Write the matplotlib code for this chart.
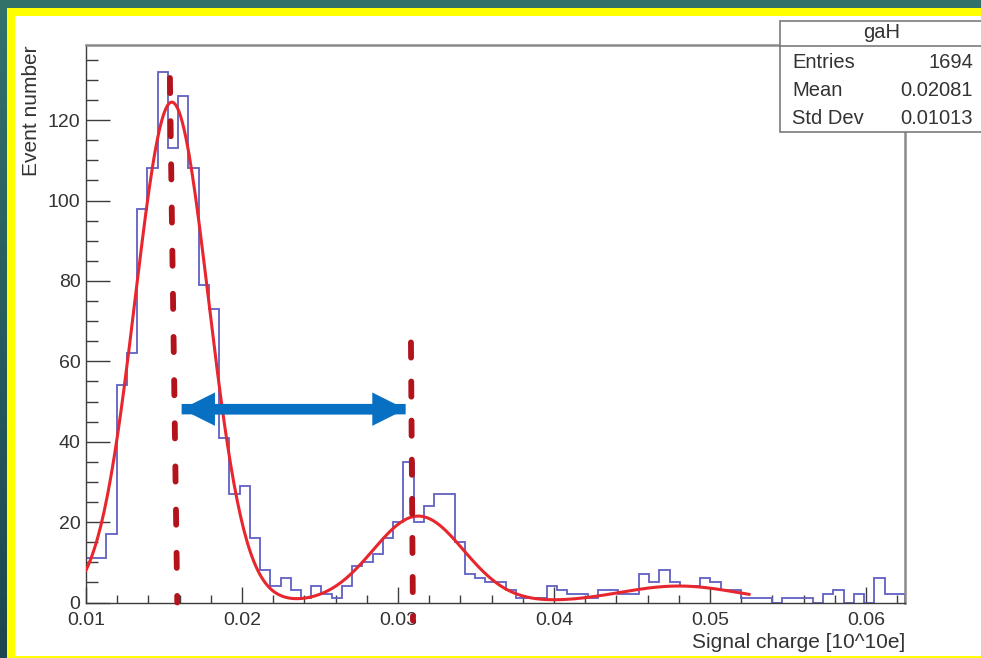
import numpy as np
import matplotlib
matplotlib.use('Agg')
import matplotlib.pyplot as plt
from matplotlib.patches import Rectangle
from matplotlib.colors import LinearSegmentedColormap

plt.rcParams['font.family'] = ['Liberation Sans', 'DejaVu Sans']

# ── Data ─────────────────────────────────────────────────────────────────────
x_lo, x_hi = 0.01, 0.0625
counts = [11, 11, 17, 54, 62, 98, 108, 132, 113, 126,
          108, 79, 73, 41, 27, 29, 16, 8, 4, 6,
          3, 1, 4, 2, 1, 4, 9, 10, 12, 16,
          20, 35, 20, 24, 27, 27, 15, 7, 6, 5,
          5, 3, 1, 1, 1, 4, 3, 2, 2, 1,
          3, 3, 2, 2, 7, 5, 8, 5, 4, 4,
          6, 5, 3, 3, 1, 1, 1, 0, 1, 1,
          1, 0, 2, 3, 0, 2, 0, 6, 2, 2]

# three-gaussian fit drawn in red
fit_amp = [124.5, 21.5, 4.1]
fit_mean = [0.0155, 0.0313, 0.048]
fit_sigma = [0.00235, 0.0029, 0.0038]
fit_range = (0.01, 0.0525)

# hand-drawn annotations (peak markers + distance arrow)
peak1_line = ([0.01538, 0.01585], [130.5, 0.0])
peak2_line = ([0.03083, 0.03096], [64.7, -4.5])
arrow_x = [0.01613, 0.03049]
arrow_y = 48.1

stats_name = 'gaH'
stats_labels = ['Entries', 'Mean', 'Std Dev']
stats_values = ['1694', '0.02081', '0.01013']

x_ticks = [0.01, 0.02, 0.03, 0.04, 0.05, 0.06]
x_ticklabels = ['0.01', '0.02', '0.03', '0.04', '0.05', '0.06']
y_ticks = [0, 20, 40, 60, 80, 100, 120]

# ── Colors ───────────────────────────────────────────────────────────────────
COL_TEXT = '#333333'
COL_AXIS = '#3c3c3c'
COL_FRAME = '#8a8a8a'
COL_HIST = '#6060c2'
COL_FIT = '#e8262e'
COL_MARK = '#b3141c'
COL_ARROW = '#0870c2'

W, H = 981, 658
fig = plt.figure(figsize=(W / 100, H / 100), dpi=100)

# slide background: teal gradient, yellow frame, white page
bg = fig.add_axes([0, 0, 1, 1], zorder=0)
cmap = LinearSegmentedColormap.from_list('teal', ['#33716b', '#1c4650'])
bg.imshow(np.linspace(0, 1, 256).reshape(-1, 1), extent=(0, W, H, 0),
          aspect='auto', cmap=cmap)
bg.add_patch(Rectangle((7, 8), W, H, color='#ffff00', lw=0))
bg.add_patch(Rectangle((15, 16), W, 640, color='white', lw=0))
bg.set_xlim(0, W)
bg.set_ylim(H, 0)
bg.axis('off')

# ── Main plot ────────────────────────────────────────────────────────────────
ax = fig.add_axes([86 / W, 1 - 602.5 / H, 819 / W, 557.5 / H], zorder=2)
ax.set_facecolor('none')

edges = np.linspace(x_lo, x_hi, len(counts) + 1)
ax.stairs(counts, edges, color=COL_HIST, lw=1.3, zorder=2)

xf = np.linspace(fit_range[0], fit_range[1], 400)
yf = np.zeros_like(xf)
for a, m, s in zip(fit_amp, fit_mean, fit_sigma):
    yf += a * np.exp(-0.5 * ((xf - m) / s) ** 2)
ax.plot(xf, yf, color=COL_FIT, lw=2.2, zorder=3)

ax.set_xlim(x_lo, x_hi)
ax.set_ylim(0, 138.7)

ax.set_xticks(x_ticks)
ax.set_xticklabels(x_ticklabels)
ax.set_xticks(np.arange(0.01, 0.0625, 0.002), minor=True)
ax.set_yticks(y_ticks)
ax.set_yticks(np.arange(0, 139, 5), minor=True)
ax.tick_params(axis='x', which='major', direction='in', length=11.5, width=1,
               color=COL_AXIS, labelsize=14, labelcolor=COL_TEXT, pad=6.5)
ax.tick_params(axis='x', which='minor', direction='in', length=6, width=1,
               color=COL_AXIS)
ax.tick_params(axis='y', which='major', direction='in', length=17, width=1,
               color=COL_AXIS, labelsize=14, labelcolor=COL_TEXT, pad=4)
ax.tick_params(axis='y', which='minor', direction='in', length=8.5, width=1,
               color=COL_AXIS)
ax.get_yticklabels()[0].set_va('center_baseline')

for side in ['left', 'bottom']:
    ax.spines[side].set_color(COL_AXIS)
    ax.spines[side].set_linewidth(1.0)
for side in ['top', 'right']:
    ax.spines[side].set_color(COL_FRAME)
    ax.spines[side].set_linewidth(1.8)

ax.set_xlabel('Signal charge [10^10e]', loc='right', fontsize=15,
              color=COL_TEXT, labelpad=3)
ax.set_ylabel('Event number', loc='top', fontsize=15, color=COL_TEXT,
              labelpad=5)

# peak markers
ax.plot(*peak1_line, color=COL_MARK, lw=4.2, linestyle=(0, (2.6, 4.8)),
        dash_capstyle='round', clip_on=False, zorder=6)
ax.plot(*peak2_line, color=COL_MARK, lw=4.2, linestyle=(0, (2.6, 4.1)),
        dash_capstyle='round', clip_on=False, zorder=6)

# double-headed distance arrow (two full-length single arrows overlaid)
for tip, tail in [(arrow_x[1], arrow_x[0]), (arrow_x[0], arrow_x[1])]:
    ax.annotate('', xy=(tip, arrow_y), xytext=(tail, arrow_y),
                arrowprops=dict(arrowstyle='simple,head_length=24,head_width=24,tail_width=7.5',
                                mutation_scale=1, color=COL_ARROW, lw=0,
                                shrinkA=0, shrinkB=0),
                zorder=7)

# ── Stats box ────────────────────────────────────────────────────────────────
ov = fig.add_axes([0, 0, 1, 1], zorder=4)
ov.set_xlim(0, W)
ov.set_ylim(H, 0)
ov.axis('off')
ov.add_patch(Rectangle((780, 21), 230, 111, facecolor='white',
                       edgecolor='#7a7a7a', lw=1.2))
ov.plot([780, W], [46, 46], color='#7a7a7a', lw=1.2)
ov.text(882, 33, stats_name, ha='center', va='center', fontsize=14.5,
        color=COL_TEXT)
for i, (lab, val) in enumerate(zip(stats_labels, stats_values)):
    y = 63 + 28 * i
    ov.text(792, y, lab, ha='left', va='center', fontsize=14.5, color=COL_TEXT)
    ov.text(973, y, val, ha='right', va='center', fontsize=14.5, color=COL_TEXT)

fig.savefig('out.png', dpi=100)
